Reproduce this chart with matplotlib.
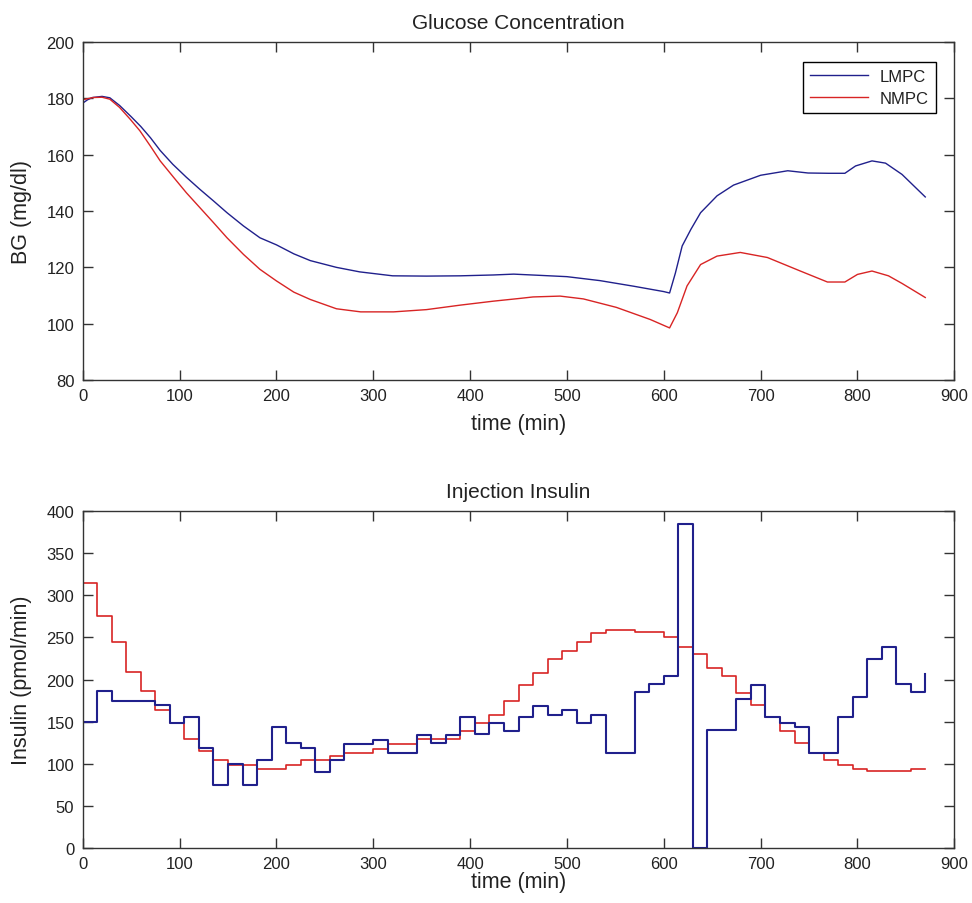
import numpy as np
import matplotlib
matplotlib.use('Agg')
import matplotlib.pyplot as plt

plt.rcParams['font.family'] = ['Liberation Sans', 'DejaVu Sans']

# Glucose concentration
bg_t_lmpc = [0, 5, 10, 20, 28, 38, 50, 60, 70, 80, 93, 107, 121, 135, 149, 166, 183, 200,
             218, 235, 262, 286, 320, 355, 390, 424, 445, 470, 500, 534, 569, 600, 606,
             612, 619, 628, 638, 655, 672, 700, 728, 749, 770, 787, 798, 815, 829, 846,
             858, 870]
bg_lmpc = [178.3, 179.5, 180.3, 180.7, 180.2, 177.5, 173.5, 170.0, 166.0, 161.5, 156.6,
           152.0, 147.7, 143.6, 139.4, 134.7, 130.5, 128.0, 124.8, 122.4, 120.0, 118.4,
           117.0, 116.9, 117.0, 117.3, 117.6, 117.2, 116.7, 115.3, 113.3, 111.4, 110.9,
           118.0, 127.6, 133.5, 139.4, 145.4, 149.2, 152.7, 154.3, 153.5, 153.4, 153.4,
           156.0, 157.8, 157.0, 153.0, 149.0, 145.0]

bg_t_nmpc = [0, 11, 20, 28, 38, 49, 59, 70, 80, 94, 107, 121, 135, 149, 166, 183, 200, 218,
             235, 262, 287, 321, 355, 390, 424, 452, 465, 493, 517, 551, 586, 606, 614,
             624, 638, 655, 679, 707, 741, 769, 787, 800, 815, 832, 846, 858, 870]
bg_nmpc = [179.5, 180.3, 180.4, 179.7, 176.8, 172.6, 168.5, 163.0, 157.8, 151.9, 146.5,
           141.2, 135.9, 130.5, 124.6, 119.3, 115.2, 111.2, 108.6, 105.3, 104.2, 104.2,
           105.0, 106.6, 108.0, 109.0, 109.5, 109.8, 108.8, 105.8, 101.5, 98.5, 103.9,
           113.4, 121.0, 124.0, 125.3, 123.5, 118.7, 114.8, 114.8, 117.5, 118.7, 117.0,
           114.3, 111.8, 109.3]

# Insulin injection, one value every 15 min
ins_t = list(range(0, 871, 15))
ins_lmpc = [150, 186, 175, 175, 175, 170, 149, 155, 119, 75,
            100, 75, 104, 144, 125, 119, 90, 104, 124, 124,
            128, 113, 113, 134, 125, 134, 155, 135, 149, 139,
            155, 169, 158, 164, 149, 158, 113, 113, 185, 195,
            204, 385, 0, 140, 140, 177, 194, 155, 149, 144,
            113, 113, 155, 179, 224, 239, 195, 185, 206]
ins_nmpc_start = 150
ins_nmpc = [315, 275, 245, 209, 186, 164, 149, 129, 115, 104,
            99, 99, 94, 94, 99, 104, 104, 109, 113, 113,
            118, 124, 124, 129, 129, 129, 139, 149, 158, 174,
            194, 208, 224, 234, 245, 255, 259, 259, 256, 256,
            250, 239, 230, 214, 204, 184, 170, 155, 139, 125,
            113, 104, 98, 94, 91, 91, 91, 94, 94]

blue = '#20208c'
red = '#d82424'
axc = '#333333'

fig = plt.figure(figsize=(9.72, 9.04), dpi=100)
ax1 = fig.add_axes([0.0851, 0.5785, 0.8967, 0.3739])
ax2 = fig.add_axes([0.0851, 0.0608, 0.8967, 0.3728])

ax1.plot(bg_t_lmpc, bg_lmpc, color=blue, lw=1.0, label='LMPC')
ax1.plot(bg_t_nmpc, bg_nmpc, color=red, lw=1.0, label='NMPC')
ax1.set_ylim(80, 200)
ax1.set_yticks(np.arange(80, 201, 20))
ax1.set_title('Glucose Concentration', fontsize=15, color='#222222', pad=10)
ax1.set_ylabel('BG (mg/dl)', fontsize=15.5, color='#222222')
leg = ax1.legend(loc='upper right', bbox_to_anchor=(0.9793, 0.941), borderaxespad=0,
                 fontsize=12, fancybox=False, framealpha=1, edgecolor='black',
                 handlelength=3.5, handletextpad=0.7, labelspacing=0.42, borderpad=0.43)
leg.get_frame().set_linewidth(1.0)
for t in leg.get_texts():
    t.set_color('#222222')

ax2.step([0] + ins_t, [ins_nmpc_start] + ins_nmpc, where='post', color=red, lw=1.2)
ax2.step(ins_t, ins_lmpc, where='post', color=blue, lw=1.5)
ax2.set_ylim(0, 400)
ax2.set_yticks(np.arange(0, 401, 50))
ax2.set_title('Injection Insulin', fontsize=15, color='#222222', pad=10)
ax2.set_ylabel('Insulin (pmol/min)', fontsize=15.5, color='#222222')

for ax in (ax1, ax2):
    ax.set_xlim(0, 900)
    ax.set_xticks(np.arange(0, 901, 100))
    ax.set_xlabel('time (min)', fontsize=15.5, color='#222222')
    ax.tick_params(direction='in', length=7, width=1.0, color=axc, labelsize=12,
                   labelcolor='#222222', top=True, right=True, pad=6)
    for s in ax.spines.values():
        s.set_color(axc)
        s.set_linewidth(1.0)
    ax.yaxis.set_label_coords(-0.058, 0.5)

ax1.xaxis.set_label_coords(0.5, -0.097)
ax2.xaxis.set_label_coords(0.5, -0.068)

fig.savefig('out.png', dpi=100)
